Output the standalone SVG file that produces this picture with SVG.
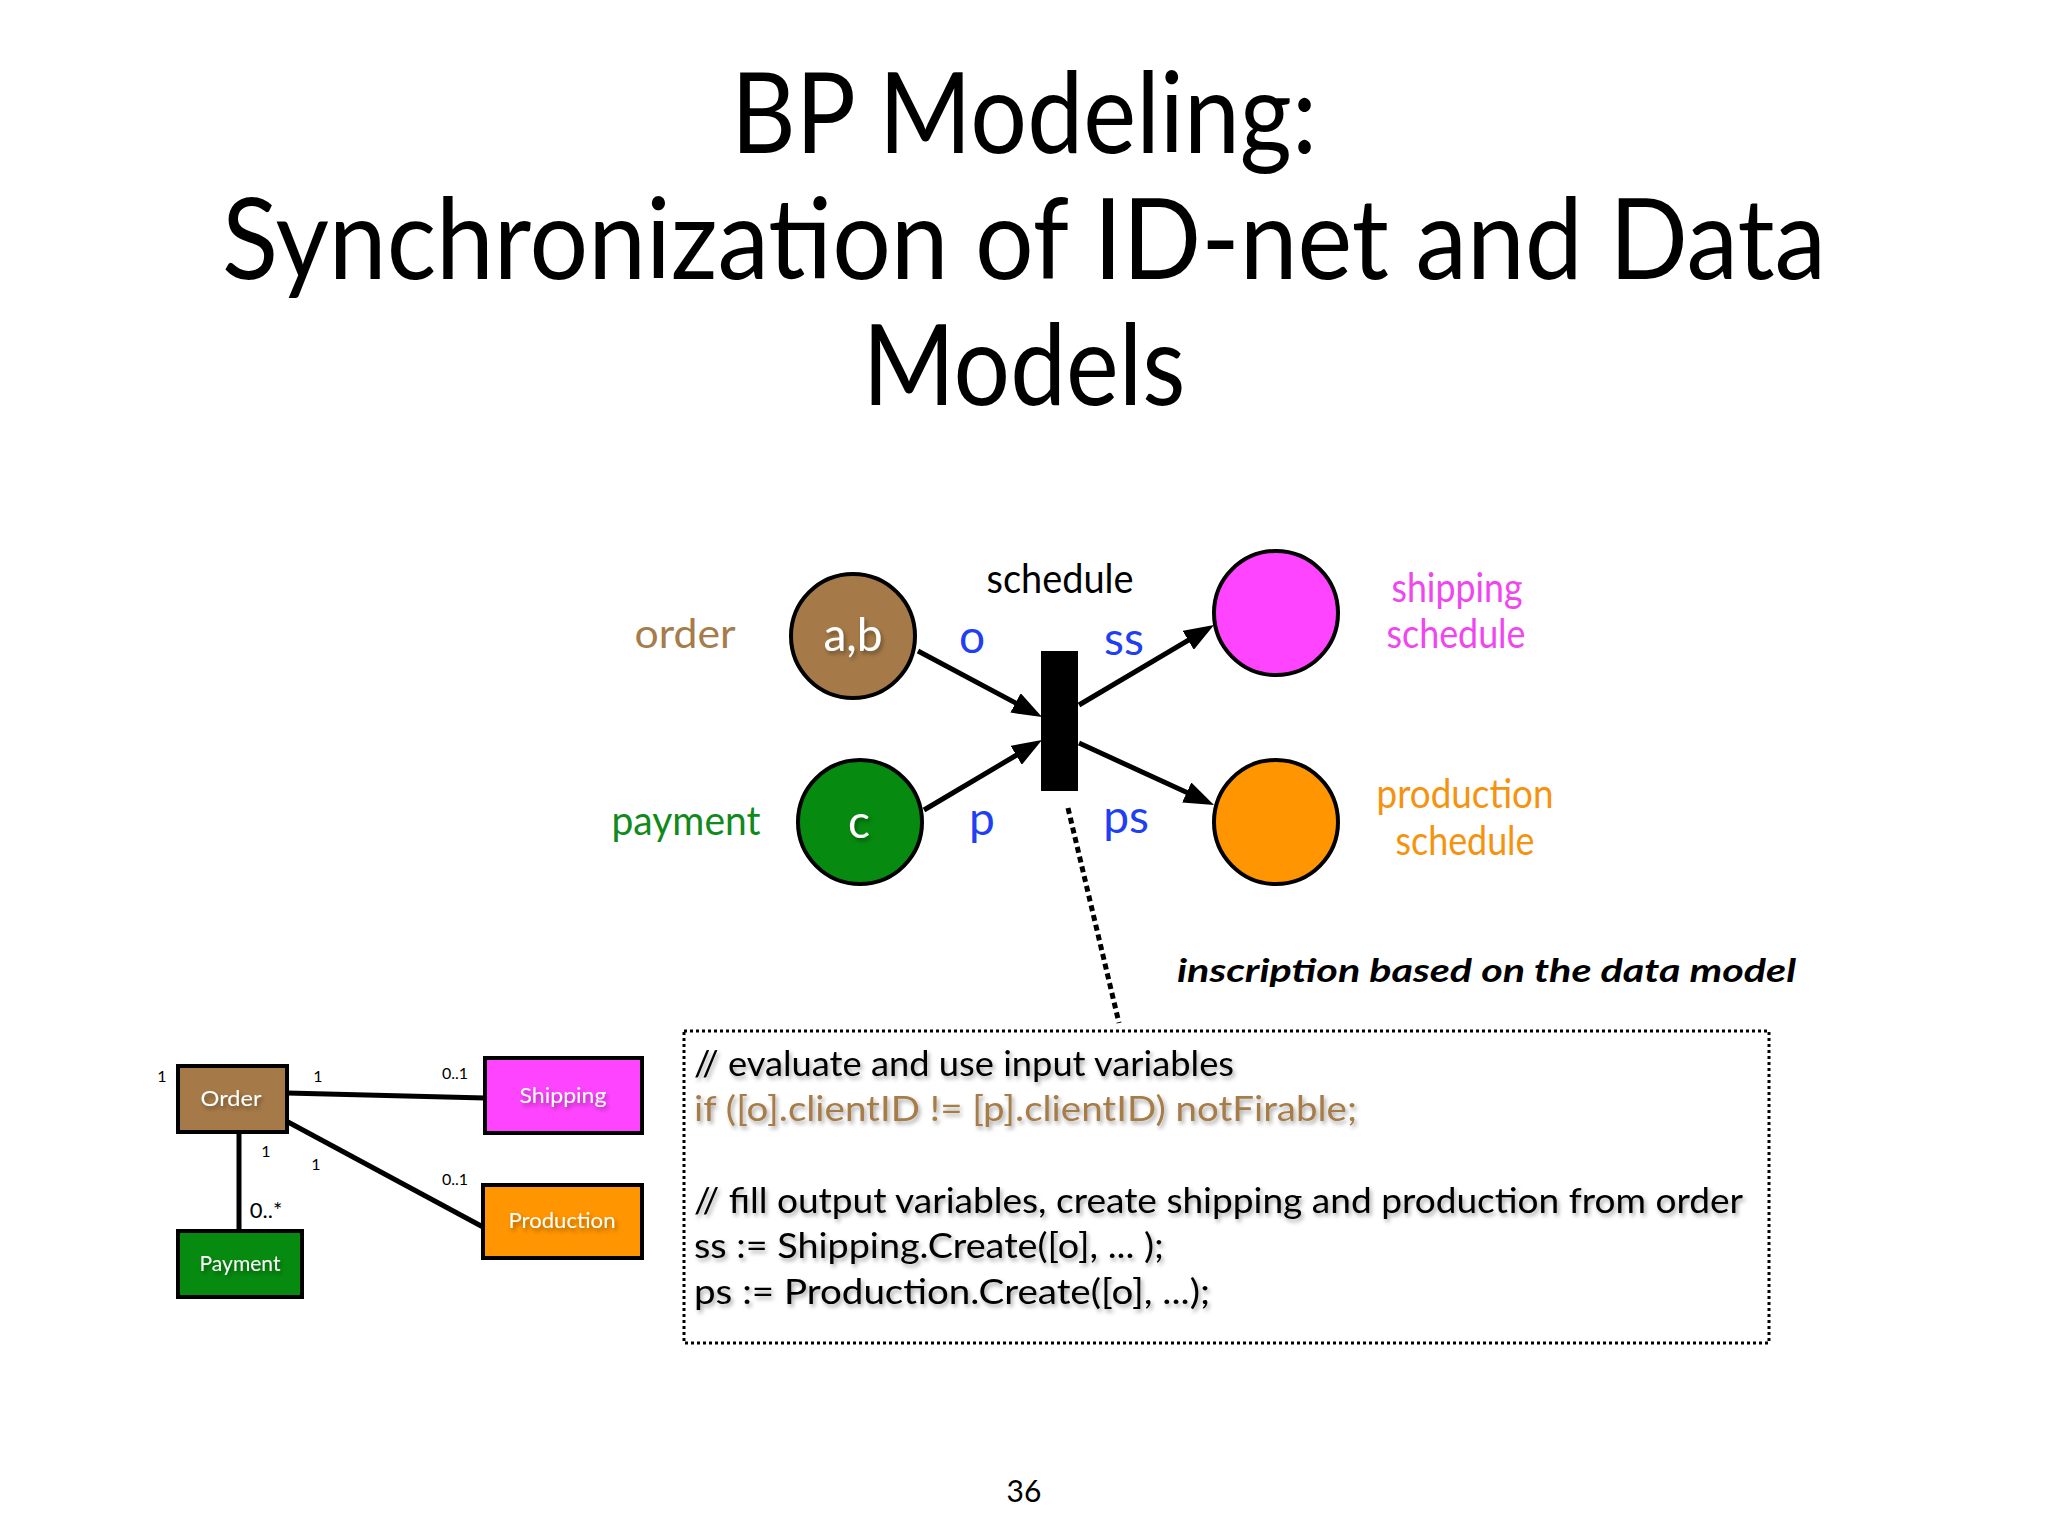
<svg xmlns="http://www.w3.org/2000/svg" width="2048" height="1536" viewBox="0 0 2048 1536">
<style>
  text { font-family: Lato, "Open Sans", "Liberation Sans", sans-serif; }
  .title { font-size: 112px; fill: #000; text-anchor: middle; }
  .lbl { font-size: 40px; text-anchor: middle; }
  .tok { font-size: 46px; text-anchor: middle; fill: #fff; }
  .blue { fill: #1f3ff2; font-size: 46px; }
  .place { stroke: #000; stroke-width: 4; }
  .arc { stroke: #000; stroke-width: 5; fill: none; }
  .code { font-size: 34px; fill: #000; }
  .uml { stroke: #000; stroke-width: 4; }
  .umlline { stroke: #000; stroke-width: 5; }
  .umltxt { font-size: 22px; fill: #fff; text-anchor: middle; }
  .mult { font-size: 16px; fill: #000; text-anchor: middle; }
</style>
<defs>
  <marker id="arrow" viewBox="0 0 30 22" refX="20" refY="11" markerWidth="30" markerHeight="22" markerUnits="userSpaceOnUse" orient="auto">
    <path d="M0,0 L30,11 L0,22 z" fill="#000"/>
  </marker>
  <filter id="shadow" x="-10%" y="-30%" width="130%" height="170%">
    <feDropShadow dx="2" dy="3" stdDeviation="2" flood-color="#000" flood-opacity="0.35"/>
  </filter>
</defs>
<rect width="2048" height="1536" fill="#fff"/>

<g id="title">
  <text class="title" x="1024" y="153" textLength="586" lengthAdjust="spacingAndGlyphs">BP Modeling:</text>
  <text class="title" x="1024" y="279" textLength="1604" lengthAdjust="spacingAndGlyphs">Synchronization of ID-net and Data</text>
  <text class="title" x="1024" y="405" textLength="323" lengthAdjust="spacingAndGlyphs">Models</text>
</g>

<g id="connectors">
  <line class="arc" x1="918" y1="651" x2="1033.2" y2="712.3" marker-end="url(#arrow)"/>
  <line class="arc" x1="924" y1="810" x2="1033.4" y2="745.1" marker-end="url(#arrow)"/>
  <line class="arc" x1="1079" y1="705" x2="1205.4" y2="630.1" marker-end="url(#arrow)"/>
  <line class="arc" x1="1079" y1="743" x2="1204.9" y2="800.8" marker-end="url(#arrow)"/>
  <line x1="1068" y1="808" x2="1119" y2="1023" stroke="#000" stroke-width="5" stroke-dasharray="6 4"/>
  <line class="umlline" x1="287" y1="1093" x2="485" y2="1098"/>
  <line class="umlline" x1="288" y1="1122" x2="483" y2="1227"/>
  <line class="umlline" x1="239" y1="1132" x2="239" y2="1231"/>
</g>

<g id="place-order">
  <circle class="place" cx="853" cy="636" r="62" fill="#a57a48"/>
  <text class="tok" x="853" y="651" filter="url(#shadow)">a,b</text>
  <text class="lbl" x="685" y="648" fill="#a67c4a" textLength="101" lengthAdjust="spacingAndGlyphs">order</text>
</g>
<g id="place-payment">
  <circle class="place" cx="860" cy="822" r="62" fill="#078a10"/>
  <text class="tok" x="859" y="838" filter="url(#shadow)">c</text>
  <text class="lbl" x="686" y="835" fill="#118a1c" textLength="149" lengthAdjust="spacingAndGlyphs">payment</text>
</g>
<g id="place-shipping">
  <circle class="place" cx="1276" cy="613" r="62" fill="#ff44ff"/>
  <text class="lbl" x="1457" y="602" fill="#f046f0" textLength="131" lengthAdjust="spacingAndGlyphs">shipping</text>
  <text class="lbl" x="1456" y="648" fill="#f046f0" textLength="139" lengthAdjust="spacingAndGlyphs">schedule</text>
</g>
<g id="place-production">
  <circle class="place" cx="1276" cy="822" r="62" fill="#ff9500"/>
  <text class="lbl" x="1465" y="808" fill="#f5930f" textLength="177" lengthAdjust="spacingAndGlyphs">production</text>
  <text class="lbl" x="1465" y="855" fill="#f5930f" textLength="139" lengthAdjust="spacingAndGlyphs">schedule</text>
</g>
<g id="transition-schedule">
  <rect x="1041" y="651" width="37" height="140" fill="#000"/>
  <text class="lbl" x="1060" y="593" fill="#000" textLength="147" lengthAdjust="spacingAndGlyphs">schedule</text>
</g>
<g id="arc-labels">
  <text class="lbl blue" x="972" y="653">o</text>
  <text class="lbl blue" x="1124" y="655">ss</text>
  <text class="lbl blue" x="982" y="835">p</text>
  <text class="lbl blue" x="1126" y="833">ps</text>
</g>

<g id="inscription">
  <text x="1177" y="982" font-size="32" font-weight="bold" font-style="italic" fill="#000" textLength="619" lengthAdjust="spacingAndGlyphs">inscription based on the data model</text>
  <rect x="684" y="1031" width="1085" height="312" fill="none" stroke="#000" stroke-width="3" stroke-dasharray="3 3"/>
  <g filter="url(#shadow)">
    <text class="code" x="694" y="1076" textLength="540" lengthAdjust="spacingAndGlyphs">// evaluate and use input variables</text>
    <text class="code" x="694" y="1121" style="fill:#a67c4a" textLength="663" lengthAdjust="spacingAndGlyphs">if ([o].clientID != [p].clientID) notFirable;</text>
    <text class="code" x="694" y="1213" textLength="1049" lengthAdjust="spacingAndGlyphs">// fill output variables, create shipping and production from order</text>
    <text class="code" x="694" y="1258" textLength="470" lengthAdjust="spacingAndGlyphs">ss := Shipping.Create([o], ... );</text>
    <text class="code" x="694" y="1304" textLength="516" lengthAdjust="spacingAndGlyphs">ps := Production.Create([o], ...);</text>
  </g>
</g>

<g id="uml-order">
  <rect class="uml" x="178" y="1066" width="109" height="66" fill="#a57a48"/>
  <text class="umltxt" x="231" y="1106" filter="url(#shadow)" textLength="61" lengthAdjust="spacingAndGlyphs">Order</text>
</g>
<g id="uml-shipping">
  <rect class="uml" x="485" y="1058" width="157" height="75" fill="#ff44ff"/>
  <text class="umltxt" x="563" y="1103" filter="url(#shadow)" textLength="87" lengthAdjust="spacingAndGlyphs">Shipping</text>
</g>
<g id="uml-production">
  <rect class="uml" x="483" y="1185" width="159" height="73" fill="#ff9500"/>
  <text class="umltxt" x="562" y="1228" filter="url(#shadow)" textLength="107" lengthAdjust="spacingAndGlyphs">Production</text>
</g>
<g id="uml-payment">
  <rect class="uml" x="178" y="1231" width="124" height="66" fill="#078a10"/>
  <text class="umltxt" x="240" y="1271" filter="url(#shadow)" textLength="81" lengthAdjust="spacingAndGlyphs">Payment</text>
</g>
<g id="multiplicities">
  <text class="mult" x="162" y="1082">1</text>
  <text class="mult" x="318" y="1082">1</text>
  <text class="mult" x="455" y="1079">0..1</text>
  <text class="mult" x="266" y="1157">1</text>
  <text class="mult" x="316" y="1170">1</text>
  <text class="mult" x="455" y="1185">0..1</text>
  <text x="266" y="1218" font-size="22" fill="#000" text-anchor="middle">0..*</text>
</g>

<text x="1024" y="1502" font-size="30" fill="#000" text-anchor="middle">36</text>
</svg>
